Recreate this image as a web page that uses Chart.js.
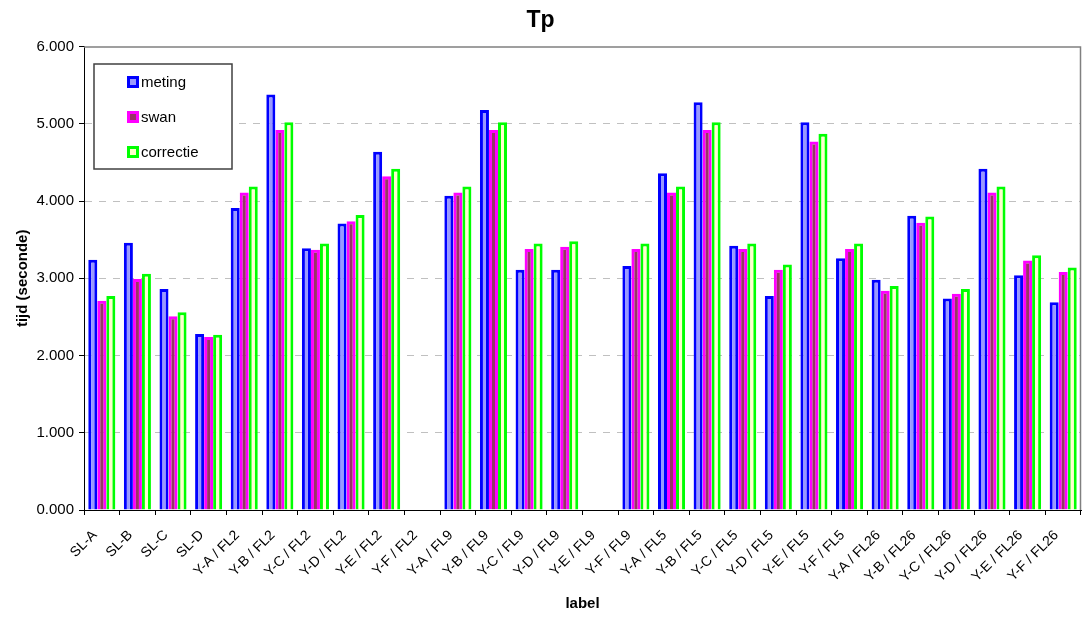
<!DOCTYPE html>
<html>
<head>
<meta charset="utf-8">
<title>Tp</title>
<script src="https://cdn.jsdelivr.net/npm/chart.js@4/dist/chart.umd.min.js"></script>
<style>
  body { margin: 0; background: #fff; }
  canvas { display: block; }
</style>
</head>
<body>
<canvas id="tpChart" width="1082" height="618"></canvas>
<script>
const labels = [
    'SL-A', 'SL-B', 'SL-C', 'SL-D',
    'Y-A / FL2', 'Y-B / FL2', 'Y-C / FL2', 'Y-D / FL2', 'Y-E / FL2', 'Y-F / FL2',
    'Y-A / FL9', 'Y-B / FL9', 'Y-C / FL9', 'Y-D / FL9', 'Y-E / FL9', 'Y-F / FL9',
    'Y-A / FL5', 'Y-B / FL5', 'Y-C / FL5', 'Y-D / FL5', 'Y-E / FL5', 'Y-F / FL5',
    'Y-A / FL26', 'Y-B / FL26', 'Y-C / FL26', 'Y-D / FL26', 'Y-E / FL26', 'Y-F / FL26'
];

const meting = [
    3.24, 3.46, 2.86, 2.28,
    3.91, 5.38, 3.39, 3.71, 4.64, null,
    4.07, 5.18, 3.11, 3.11, null, 3.16,
    4.36, 5.28, 3.42, 2.77, 5.02, 3.26,
    2.98, 3.81, 2.74, 4.42, 3.04, 2.69
];

const swan = [
    2.71, 2.99, 2.51, 2.24,
    4.11, 4.92, 3.37, 3.74, 4.32, null,
    4.11, 4.92, 3.38, 3.41, null, 3.38,
    4.11, 4.92, 3.38, 3.11, 4.77, 3.38,
    2.84, 3.72, 2.80, 4.11, 3.23, 3.08
];

const correctie = [
    2.77, 3.06, 2.56, 2.27,
    4.19, 5.02, 3.45, 3.82, 4.42, null,
    4.19, 5.02, 3.45, 3.48, null, 3.45,
    4.19, 5.02, 3.45, 3.18, 4.87, 3.45,
    2.90, 3.80, 2.86, 4.19, 3.30, 3.14
];

const yTicks = [0, 1, 2, 3, 4, 5, 6];

const FONT = "'Liberation Sans', Arial, sans-serif";

// grey frame on top and right of the plot area
const plotFrame = {
    id: 'plotFrame',
    beforeDatasetsDraw(chart) {
        const { ctx, chartArea: a } = chart;
        ctx.save();
        ctx.strokeStyle = '#808080';
        ctx.lineWidth = 1.5;
        ctx.beginPath();
        ctx.moveTo(a.left, a.top + 0.5);
        ctx.lineTo(a.right - 0.5, a.top + 0.5);
        ctx.lineTo(a.right - 0.5, a.bottom);
        ctx.stroke();
        ctx.restore();
    }
};

// boxed legend sitting inside the plot, top left
const boxLegend = {
    id: 'boxLegend',
    afterDatasetsDraw(chart) {
        const { ctx } = chart;
        const x = 94, y = 64, w = 138, h = 105;
        ctx.save();
        ctx.fillStyle = '#fff';
        ctx.fillRect(x, y, w, h);
        ctx.strokeStyle = '#404040';
        ctx.lineWidth = 1.5;
        ctx.strokeRect(x, y, w, h);
        ctx.font = '15px ' + FONT;
        ctx.textBaseline = 'middle';
        chart.data.datasets.forEach((ds, i) => {
            const cy = 82 + i * 35;
            ctx.fillStyle = ds.borderColor;
            ctx.fillRect(127, cy - 6, 12, 12);
            ctx.fillStyle = ds.backgroundColor;
            ctx.fillRect(130, cy - 3, 6, 6);
            ctx.fillStyle = '#000';
            ctx.fillText(ds.label, 141, cy + 1);
        });
        ctx.restore();
    }
};

new Chart(document.getElementById('tpChart'), {
    type: 'bar',
    data: {
        labels: labels,
        datasets: [
            { label: 'meting', data: meting, backgroundColor: '#9999ff', borderColor: '#0000ff' },
            { label: 'swan', data: swan, backgroundColor: '#993366', borderColor: '#ff00ff' },
            { label: 'correctie', data: correctie, backgroundColor: '#ffffcc', borderColor: '#00ff00' }
        ]
    },
    options: {
        responsive: false,
        animation: false,
        layout: { padding: { top: 0, right: 1, left: 0, bottom: 0 } },
        datasets: {
            bar: {
                borderWidth: 3,
                categoryPercentage: 0.76,
                barPercentage: 1.0
            }
        },
        plugins: {
            legend: { display: false },
            tooltip: { enabled: false },
            title: {
                display: true,
                text: 'Tp',
                color: '#000',
                font: { family: FONT, size: 23, weight: 'bold' },
                padding: { top: 7, bottom: 12 }
            }
        },
        scales: {
            x: {
                afterFit(scale) {
                    scale.height = 108;
                    scale.paddingLeft = 0;
                    scale.paddingRight = 0;
                },
                border: { display: true, color: '#000', width: 1 },
                grid: {
                    offset: true,
                    drawOnChartArea: false,
                    drawTicks: true,
                    tickLength: 5,
                    tickColor: '#000'
                },
                ticks: {
                    color: '#000',
                    autoSkip: false,
                    minRotation: 45,
                    maxRotation: 45,
                    padding: 12,
                    labelOffset: -7,
                    font: { family: FONT, size: 14 }
                },
                title: {
                    display: true,
                    text: 'label',
                    color: '#000',
                    font: { family: FONT, size: 15, weight: 'bold' },
                    padding: { top: 0, bottom: 5 }
                }
            },
            y: {
                min: 0,
                max: 6,
                afterFit(scale) { scale.width = 84; },
                afterBuildTicks(scale) { scale.ticks = yTicks.map(v => ({ value: v })); },
                border: { display: true, color: '#000', width: 1, dash: [7, 7] },
                grid: {
                    color: c => (c.tick && (c.tick.value === 0 || c.tick.value === 6)) ? 'rgba(0,0,0,0)' : '#c0c0c0',
                    tickColor: '#000',
                    tickBorderDash: [],
                    tickLength: 5
                },
                ticks: {
                    color: '#000',
                    padding: 5,
                    font: { family: FONT, size: 15 },
                    callback: v => v.toFixed(3)
                },
                title: {
                    display: true,
                    text: 'tijd (seconde)',
                    color: '#000',
                    font: { family: FONT, size: 15, weight: 'bold' },
                    padding: { top: 14, bottom: 0 }
                }
            }
        }
    },
    plugins: [plotFrame, boxLegend]
});
</script>
</body>
</html>
